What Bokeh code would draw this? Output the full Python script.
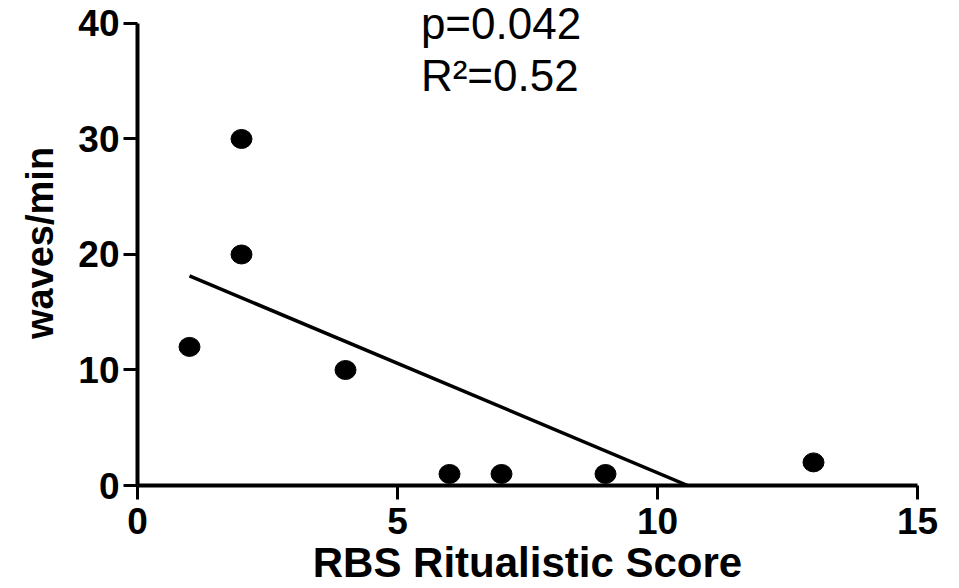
import numpy as np
from bokeh.plotting import figure
from bokeh.models import Range1d, FixedTicker, Label, ColumnDataSource
from bokeh.embed import file_html
from bokeh.resources import INLINE

# ---- data ----
rbs_score = [1, 2, 2, 4, 6, 7, 9, 13]
waves_per_min = [12, 30, 20, 10, 1, 1, 1, 2]
x_ticks = [0, 5, 10, 15]
y_ticks = [0, 10, 20, 30, 40]
p_text = "p=0.042"
r2_text = "R\u00b2=0.52"
x_label = "RBS Ritualistic Score"
y_label = "waves/min"

# linear regression fit of the data, drawn from the first x to where it reaches 0
slope, intercept = np.polyfit(rbs_score, waves_per_min, 1)
fit_x = [min(rbs_score), -intercept / slope]
fit_y = [slope * v + intercept for v in fit_x]

FONT = "Liberation Sans"

# frame spans the full top of the canvas so the annotation is not clipped;
# the y axis itself is bounded to 0..40 (axis top sits 23px below the canvas top)
FRAME_H = 486
AXIS_H = 463
y_top = y_ticks[-1] * FRAME_H / AXIS_H

p = figure(width=959, height=588, output_backend="svg", toolbar_location=None,
           x_range=Range1d(x_ticks[0], x_ticks[-1]), y_range=Range1d(0, y_top),
           min_border_left=137, min_border_right=42, min_border_top=0, min_border_bottom=102)
p.background_fill_color = "white"
p.border_fill_color = "white"
p.outline_line_color = None
p.xgrid.grid_line_color = None
p.ygrid.grid_line_color = None

for ax, ticks in ((p.xaxis[0], x_ticks), (p.yaxis[0], y_ticks)):
    ax.ticker = FixedTicker(ticks=ticks)
    ax.bounds = (ticks[0], ticks[-1])
    ax.axis_line_width = 4
    ax.axis_line_color = "black"
    ax.major_tick_line_width = 3
    ax.major_tick_line_color = "black"
    ax.major_tick_out = 14
    ax.major_tick_in = 0
    ax.minor_tick_line_color = None
    ax.major_label_text_font = FONT
    ax.major_label_text_font_style = "bold"
    ax.major_label_text_font_size = "37px"
    ax.major_label_text_color = "black"
    ax.axis_label_text_font = FONT
    ax.axis_label_text_font_style = "bold"
    ax.axis_label_text_color = "black"

p.xaxis.major_label_standoff = 8
p.yaxis.major_label_standoff = 4
p.xaxis.axis_label = x_label
p.xaxis.axis_label_text_font_size = "42px"
p.xaxis.axis_label_standoff = 2
p.yaxis.axis_label = y_label
p.yaxis.axis_label_text_font_size = "38px"
p.yaxis.axis_label_standoff = 14

src = ColumnDataSource(data=dict(x=rbs_score, y=waves_per_min))
p.line(fit_x, fit_y, line_color="black", line_width=3.5)
p.ellipse(x="x", y="y", width=21, height=19, width_units="screen", height_units="screen",
          source=src, fill_color="black", line_color="black")

px_per_unit = AXIS_H / y_ticks[-1]
p.add_layout(Label(x=5.45, y=(FRAME_H - 23) / px_per_unit, text=p_text, text_font=FONT,
                   text_font_size="44px", text_color="black", text_baseline="alphabetic"))
p.add_layout(Label(x=5.45, y=(FRAME_H - 75) / px_per_unit, text=r2_text, text_font=FONT,
                   text_font_size="44px", text_color="black", text_baseline="alphabetic"))

open("out.html", "w").write(file_html(p, INLINE))
